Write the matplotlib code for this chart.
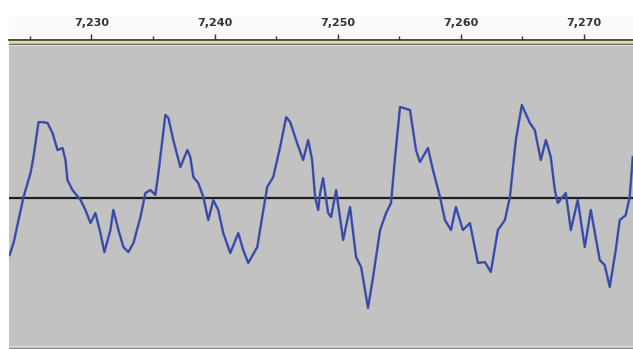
import matplotlib.pyplot as plt
import numpy as np

# waveform trace (time in the ruler's units, amplitude -1..1)
t = [7223.35, 7223.67, 7224.48, 7225.05, 7225.29, 7225.70, 7226.02, 7226.43, 7226.84, 7227.24,
     7227.65, 7227.89, 7228.05, 7228.46, 7229.11, 7229.51, 7229.92, 7230.32, 7230.73, 7231.05,
     7231.54, 7231.78, 7232.19, 7232.60, 7233.00, 7233.41, 7233.98, 7234.38, 7234.79, 7235.19,
     7235.44, 7235.76, 7236.00, 7236.25, 7236.65, 7237.22, 7237.79, 7238.03, 7238.28, 7238.68,
     7239.09, 7239.49, 7239.90, 7240.30, 7240.71, 7241.28, 7241.93, 7242.33, 7242.74, 7243.47,
     7243.87, 7244.28, 7244.77, 7245.33, 7245.82, 7246.15, 7246.71, 7247.20, 7247.61, 7247.93,
     7248.17, 7248.42, 7248.58, 7248.82, 7249.23, 7249.47, 7249.88, 7250.45, 7251.01, 7251.50,
     7251.91, 7252.47, 7252.88, 7253.45, 7253.94, 7254.34, 7254.67, 7255.07, 7255.88, 7256.37,
     7256.69, 7257.34, 7257.75, 7258.32, 7258.72, 7259.21, 7259.61, 7260.18, 7260.75, 7261.40,
     7261.97, 7262.45, 7263.02, 7263.59, 7264.00, 7264.48, 7264.97, 7265.62, 7266.02, 7266.51,
     7266.92, 7267.32, 7267.65, 7267.89, 7268.54, 7268.95, 7269.51, 7270.08, 7270.57, 7271.30,
     7271.70, 7272.11, 7272.60, 7272.92, 7273.41, 7273.73, 7273.98]
amp = [-0.377, -0.298, 0.007, 0.166, 0.272, 0.503, 0.503, 0.497, 0.430, 0.318,
       0.331, 0.252, 0.119, 0.053, -0.013, -0.079, -0.166, -0.099, -0.232, -0.358,
       -0.212, -0.079, -0.212, -0.325, -0.358, -0.298, -0.126, 0.033, 0.053, 0.020,
       0.166, 0.384, 0.550, 0.530, 0.384, 0.205, 0.318, 0.272, 0.139, 0.099,
       0.007, -0.146, -0.013, -0.079, -0.232, -0.364, -0.232, -0.344, -0.430, -0.325,
       -0.126, 0.073, 0.139, 0.338, 0.536, 0.503, 0.364, 0.252, 0.384, 0.252,
       0.007, -0.079, 0.033, 0.132, -0.099, -0.126, 0.053, -0.278, -0.060, -0.391,
       -0.457, -0.728, -0.523, -0.212, -0.099, -0.033, 0.272, 0.603, 0.583, 0.318,
       0.238, 0.331, 0.185, 0.007, -0.146, -0.212, -0.060, -0.212, -0.166, -0.430,
       -0.424, -0.490, -0.212, -0.146, 0.007, 0.384, 0.616, 0.497, 0.450, 0.252,
       0.384, 0.272, 0.053, -0.033, 0.033, -0.212, -0.013, -0.325, -0.079, -0.411,
       -0.444, -0.589, -0.344, -0.146, -0.113, 0.007, 0.272]

major_ticks = [7230, 7240, 7250, 7260, 7270]
minor_ticks = [7225, 7235, 7245, 7255, 7265]
tick_labels = ["7,230", "7,240", "7,250", "7,260", "7,270"]

x_min, x_max = 7223.3, 7274.0
W, H = 633, 349

def box(left, top, right, bottom):
    # pixel box -> figure fraction rect
    return [left / W, 1 - bottom / H, (right - left) / W, (bottom - top) / H]

fig = plt.figure(figsize=(W / 100, H / 100), dpi=100, facecolor="white")

# ruler
ruler = fig.add_axes(box(9, 16, 633, 39.5))
ruler.set_facecolor("#fafafa")
ruler.set_xlim(x_min, x_max)
ruler.set_ylim(0, 1)
ruler.set_xticks(major_ticks)
ruler.set_xticks(minor_ticks, minor=True)
ruler.tick_params(axis="x", which="both", direction="in", bottom=True, top=False,
                  labelbottom=False, color="#333333", width=1)
ruler.tick_params(axis="x", which="major", length=4.5)
ruler.tick_params(axis="x", which="minor", length=3)
ruler.set_yticks([])
for s in ["top", "left", "right"]:
    ruler.spines[s].set_visible(False)
ruler.spines["bottom"].set_color("#2a2a2a")
ruler.spines["bottom"].set_linewidth(1.2)
for v, lab in zip(major_ticks, tick_labels):
    ruler.text(v, 0.72, lab, ha="center", va="center", fontsize=8,
               fontweight="bold", color="#333333")

# yellow strip under the ruler
strip = fig.add_axes(box(9, 39.5, 633, 46))
strip.set_xlim(0, 1)
strip.set_ylim(6.5, 0)
strip.axhspan(0, 1.0, color="#3a3a3a")
strip.axhspan(1.0, 4.2, color="#e2dc96")
strip.axhspan(4.2, 5.3, color="#4a4a4a")
strip.axhspan(5.3, 6.5, color="#e8e8e8")
strip.axis("off")

# waveform track
ax = fig.add_axes(box(9, 46, 633, 346))
ax.set_facecolor("#c2c2c2")
ax.set_xlim(x_min, x_max)
ax.set_ylim(-0.98, 1.007)
ax.axhline(0, color="#1e1e1e", linewidth=1.6, zorder=2)
ax.plot(t, amp, color="#4556b0", linewidth=1.8, alpha=0.9, zorder=3)
ax.plot(t, amp, color="#3345a6", linewidth=0.9, zorder=4)
ax.set_xticks([])
ax.set_yticks([])
for s in ax.spines.values():
    s.set_visible(False)

# bottom edge of the track
edge = fig.add_axes(box(9, 346, 633, 349))
edge.set_xlim(0, 1)
edge.set_ylim(3, 0)
edge.axhspan(0, 1.5, color="#d6d6d6")
edge.axhspan(1.5, 3, color="#8a8a8a")
edge.axis("off")

fig.savefig("out.png", dpi=100, facecolor="white")
